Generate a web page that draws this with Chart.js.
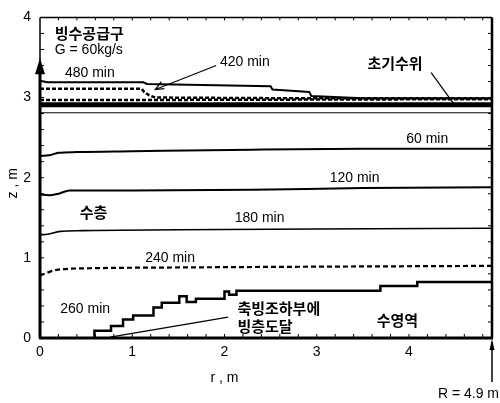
<!DOCTYPE html>
<html>
<head>
<meta charset="utf-8">
<script src="https://cdn.jsdelivr.net/npm/chart.js@4.4.1/dist/chart.umd.min.js"></script>
<style>
  body { margin: 0; background: #fff; }
  #wrap { width: 500px; height: 403px; position: relative; }
</style>
</head>
<body>
<div id="wrap"><canvas id="myChart"></canvas></div>
<script>
// tick labels
const xTicks = [0, 1, 2, 3, 4];
const yTicks = [0, 1, 2, 3, 4];

// water level profiles, r (m) vs z (m)
const r480 = [0, 0.08, 1.12, 1.16, 2.50, 2.52, 2.92, 2.94, 3.5, 4.9];
const z480 = [3.21, 3.19, 3.19, 3.17, 3.14, 3.10, 3.07, 3.02, 2.99, 2.99];

const r420 = [0, 1.10, 1.13, 1.18, 1.25, 2.9, 4.9];
const z420 = [3.11, 3.11, 3.07, 3.03, 3.00, 2.99, 2.99];

const rDashLow = [0, 1.25, 4.9];
const zDashLow = [2.97, 2.97, 2.98];

const rInit = [0, 4.9];
const zInit = [2.91, 2.91];

const rThin = [0, 4.9];
const zThin = [2.81, 2.81];

const r60 = [0, 0.1, 0.2, 0.4, 1.0, 2.3, 3.5, 4.9];
const z60 = [2.27, 2.28, 2.31, 2.32, 2.33, 2.35, 2.36, 2.36];

const r120 = [0, 0.1, 0.2, 0.32, 1.0, 2.3, 3.5, 4.9];
const z120 = [1.79, 1.78, 1.80, 1.84, 1.84, 1.85, 1.87, 1.88];

const r180 = [0, 0.04, 0.22, 0.46, 1.5, 3.0, 4.9];
const z180 = [1.29, 1.29, 1.33, 1.34, 1.35, 1.36, 1.37];

const r240 = [0, 0.18, 0.54, 1.5, 3.0, 4.9];
const z240 = [0.78, 0.85, 0.87, 0.88, 0.89, 0.90];

// ice bottom at 260 min (level changes to z at r)
const r260 = [0.59, 0.59, 0.77, 0.90, 1.01, 1.23, 1.32, 1.51, 1.59, 1.69, 2.00, 2.05, 2.13, 3.69, 4.09, 4.9];
const z260 = [0, 0.09, 0.15, 0.23, 0.28, 0.38, 0.44, 0.52, 0.45, 0.49, 0.58, 0.54, 0.59, 0.65, 0.70, 0.70];

// text labels [text, r, z, korean]
const labels = [
  ['빙수공급구', 0.16, 3.80, true],
  ['G = 60kg/s', 0.16, 3.59, false],
  ['480 min', 0.27, 3.30, false],
  ['420 min', 1.95, 3.44, false],
  ['초기수위', 3.55, 3.43, true],
  ['60 min', 3.97, 2.48, false],
  ['120 min', 3.14, 1.99, false],
  ['수층', 0.43, 1.57, true],
  ['180 min', 2.11, 1.49, false],
  ['240 min', 1.14, 1.00, false],
  ['260 min', 0.22, 0.36, false],
  ['축빙조하부에', 2.14, 0.37, true],
  ['빙층도달', 2.14, 0.15, true],
  ['수영역', 3.65, 0.22, true]
];

const FONT = '"Liberation Sans", "Noto Sans CJK KR", Arial, sans-serif';
const KFONT = '"Noto Sans CJK KR", sans-serif';

function pts(rs, zs) {
  return rs.map((r, i) => ({ x: r, y: zs[i] }));
}

function line(data, width, dash, extra) {
  return Object.assign({
    data: data,
    borderColor: '#000',
    borderWidth: width,
    borderDash: dash || [],
    pointRadius: 0,
    fill: false,
    tension: 0
  }, extra || {});
}

// frame, minor ticks, arrows and texts
const decor = {
  id: 'decor',
  afterDatasetsDraw(chart) {
    const c = chart.ctx;
    const xs = chart.scales.x, ys = chart.scales.y;
    const a = chart.chartArea;
    const px = v => xs.getPixelForValue(v);
    const py = v => ys.getPixelForValue(v);
    c.save();
    c.strokeStyle = '#000';
    c.fillStyle = '#000';

    // frame
    c.lineWidth = 1.5;
    c.beginPath(); c.moveTo(a.left, a.top); c.lineTo(a.right, a.top); c.stroke();
    c.lineWidth = 2.5;
    c.beginPath(); c.moveTo(a.right, a.top); c.lineTo(a.right, a.bottom); c.stroke();
    c.lineWidth = 3;
    c.beginPath(); c.moveTo(a.left - 1, a.bottom); c.lineTo(a.right + 1, a.bottom); c.stroke();
    c.beginPath(); c.moveTo(a.left, a.bottom); c.lineTo(a.left, py(3.3)); c.stroke();
    c.lineWidth = 1.5;
    c.beginPath(); c.moveTo(a.left, py(3.3)); c.lineTo(a.left, a.top); c.stroke();

    // inlet arrow head on the axis
    c.beginPath();
    c.moveTo(a.left, py(3.49));
    c.lineTo(a.left - 5, py(3.29));
    c.lineTo(a.left + 5, py(3.29));
    c.closePath(); c.fill();

    // minor ticks
    c.lineWidth = 1;
    for (let i = 1; i < 20; i++) {
      const y = py(i * 0.2);
      c.beginPath(); c.moveTo(a.left, y); c.lineTo(a.left + 4, y); c.stroke();
      c.beginPath(); c.moveTo(a.right, y); c.lineTo(a.right - 4, y); c.stroke();
    }
    for (let i = 1; i < 25; i++) {
      const x = px(i * 0.2);
      c.beginPath(); c.moveTo(x, a.bottom); c.lineTo(x, a.bottom - 4); c.stroke();
      c.beginPath(); c.moveTo(x, a.top); c.lineTo(x, a.top + 3); c.stroke();
    }

    // leader lines
    c.lineWidth = 1.2;
    c.beginPath(); c.moveTo(px(1.91), py(3.40)); c.lineTo(px(1.25), py(3.10)); c.stroke();
    c.beginPath();
    c.moveTo(px(1.25) + 9, py(3.10) - 1);
    c.lineTo(px(1.25), py(3.10));
    c.lineTo(px(1.25) + 6, py(3.10) - 8);
    c.stroke();
    c.beginPath(); c.moveTo(px(4.24), py(3.31)); c.lineTo(px(4.48), py(2.93)); c.stroke();
    c.beginPath(); c.moveTo(px(2.04), py(0.26)); c.lineTo(px(0.76), py(0.01)); c.stroke();

    // R = 4.9 m arrow below the axis
    c.lineWidth = 1.5;
    c.beginPath(); c.moveTo(a.right, a.bottom + 4); c.lineTo(a.right, a.bottom + 44); c.stroke();
    c.beginPath();
    c.moveTo(a.right, a.bottom + 1);
    c.lineTo(a.right - 2.5, a.bottom + 12);
    c.lineTo(a.right + 2.5, a.bottom + 12);
    c.closePath(); c.fill();

    // texts
    c.textBaseline = 'middle';
    c.textAlign = 'left';
    labels.forEach(l => {
      c.font = l[3] ? 'bold 15px ' + KFONT : '14px ' + FONT;
      c.fillText(l[0], px(l[1]), py(l[2]));
    });

    c.font = '14px ' + FONT;
    c.textAlign = 'right';
    c.fillText('R = 4.9 m', 499, a.bottom + 56);
    c.textAlign = 'center';
    c.fillText('r , m', px(2.0), a.bottom + 40);
    c.translate(13, py(1.93));
    c.rotate(-Math.PI / 2);
    c.fillText('z , m', 0, 0);
    c.restore();
  }
};

const ctx = document.getElementById('myChart').getContext('2d');
const myChart = new Chart(ctx, {
  type: 'line',
  data: {
    datasets: [
      line(pts(rThin, zThin), 1),
      line(pts(rInit, zInit), 5),
      line(pts(rDashLow, zDashLow), 2.5, [4, 2]),
      line(pts(r420, z420), 2.5, [4, 2]),
      line(pts(r480, z480), 2),
      line(pts(r60, z60), 2, [], { cubicInterpolationMode: 'monotone' }),
      line(pts(r120, z120), 2, [], { cubicInterpolationMode: 'monotone' }),
      line(pts(r180, z180), 1.6, [], { cubicInterpolationMode: 'monotone' }),
      line(pts(r240, z240), 2.2, [5, 3], { cubicInterpolationMode: 'monotone' }),
      line(pts(r260, z260), 2.5, [], { stepped: true })
    ]
  },
  options: {
    responsive: true,
    maintainAspectRatio: false,
    animation: false,
    layout: { padding: { top: 13, right: 8, left: 0, bottom: 0 } },
    plugins: {
      legend: { display: false },
      tooltip: { enabled: false }
    },
    scales: {
      x: {
        type: 'linear',
        min: 0,
        max: 4.9,
        afterFit: s => { s.height = 65; },
        afterBuildTicks: s => { s.ticks = xTicks.map(v => ({ value: v })); },
        grid: { display: false, drawTicks: false },
        border: { display: false },
        ticks: { color: '#000', padding: 6, maxRotation: 0, font: { size: 14, family: FONT } }
      },
      y: {
        type: 'linear',
        min: 0,
        max: 4,
        afterFit: s => { s.width = 40; },
        afterBuildTicks: s => { s.ticks = yTicks.map(v => ({ value: v })); },
        grid: { display: false, drawTicks: false },
        border: { display: false },
        ticks: { color: '#000', padding: 9, font: { size: 14, family: FONT } }
      }
    }
  },
  plugins: [decor]
});
</script>
</body>
</html>
